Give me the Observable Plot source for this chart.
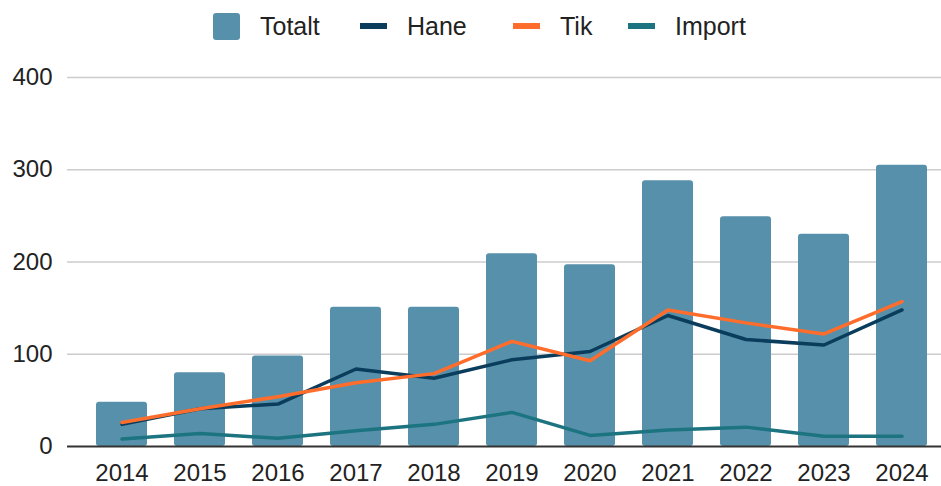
<!DOCTYPE html>
<html><head><meta charset="utf-8">
<script src="https://cdn.jsdelivr.net/npm/d3@7"></script>
<script src="https://cdn.jsdelivr.net/npm/@observablehq/plot@0.6"></script>
<style>
body{margin:0;background:#fff;font-family:"Liberation Sans", Arial, sans-serif;}
#legend{position:relative;height:50px;width:941px;font-size:25px;color:#222;}
.item{position:absolute;top:1px;height:50px;display:flex;align-items:center;white-space:nowrap;}
.sw{width:27px;margin-right:20px;}
.box{height:27px;border-radius:3px;}
.ln{height:6px;}
#chart svg{display:block;}
</style></head><body>
<div id="legend"></div>
<div id="chart"></div>
<script>
const years = ["2014","2015","2016","2017","2018","2019","2020","2021","2022","2023","2024"];
const totalt = [48, 80, 98, 151, 151, 209, 197, 288, 249, 230, 305];
const hane   = [24, 41, 46, 84, 74, 94, 103, 142, 116, 110, 148];
const tik    = [26, 41, 54, 69, 79, 114, 93, 148, 134, 122, 157];
const imp    = [8, 14, 9, 17, 24, 37, 12, 18, 21, 11, 11];
const yTicks = [0, 100, 200, 300, 400];

const seriesNames = ["Totalt", "Hane", "Tik", "Import"];
const seriesColors = ["#5790ab", "#0a3d5c", "#ff6d2d", "#1c7480"];
const legendLeft = [213, 360, 513, 628];

const legend = document.getElementById("legend");
seriesNames.forEach((name, i) => {
  const it = document.createElement("div");
  it.className = "item";
  it.style.left = legendLeft[i] + "px";
  const sw = document.createElement("div");
  sw.className = "sw " + (i === 0 ? "box" : "ln");
  sw.style.background = seriesColors[i];
  const tx = document.createElement("span");
  tx.textContent = name;
  it.appendChild(sw); it.appendChild(tx);
  legend.appendChild(it);
});

const data = years.map((y, i) => ({year: y, totalt: totalt[i], hane: hane[i], tik: tik[i], imp: imp[i]}));

const chart = Plot.plot({
  width: 941, height: 436,
  marginLeft: 67, marginRight: 0, marginTop: 27, marginBottom: 40,
  style: {fontFamily: "'Liberation Sans', Arial, sans-serif", fontSize: "24px", color: "#222", background: "#fff"},
  x: {type: "band", domain: years, paddingInner: 0.35, paddingOuter: 0.26, align: 0.67, label: null},
  y: {domain: [0, 400], label: null},
  marks: [
    Plot.ruleY(yTicks.slice(1), {stroke: "#cccccc", strokeWidth: 1.5}),
    Plot.barY(data, {x: "year", y: "totalt", fill: seriesColors[0], rx: 3}),
    Plot.ruleY([0], {stroke: "#333", strokeWidth: 2}),
    Plot.lineY(data, {x: "year", y: "imp", stroke: seriesColors[3], strokeWidth: 3.5}),
    Plot.lineY(data, {x: "year", y: "hane", stroke: seriesColors[1], strokeWidth: 3.5}),
    Plot.lineY(data, {x: "year", y: "tik", stroke: seriesColors[2], strokeWidth: 3.5}),
    Plot.axisY(yTicks, {tickSize: 0, tickPadding: 15, label: null, fontSize: 24}),
    Plot.axisX({tickSize: 0, tickPadding: 17, label: null, fontSize: 24})
  ]
});
document.getElementById("chart").appendChild(chart);
</script>
</body></html>
